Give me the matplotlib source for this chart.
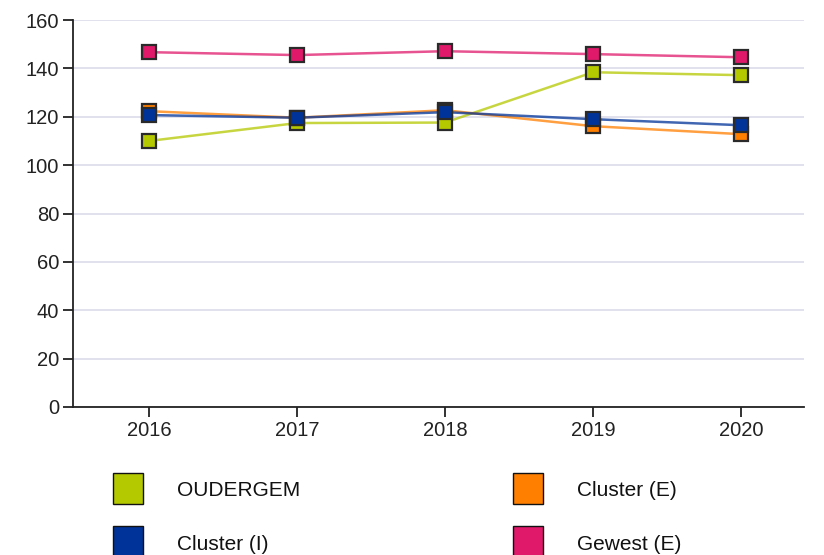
import matplotlib.pyplot as plt
from matplotlib.patches import Rectangle

plt.rcParams['font.family'] = ['Liberation Sans', 'DejaVu Sans']

years = [2016, 2017, 2018, 2019, 2020]
oudergem = [110.0, 117.4, 117.6, 138.4, 137.2]
cluster_e = [122.3, 119.6, 122.7, 116.1, 112.8]
cluster_i = [120.7, 119.6, 121.9, 119.0, 116.5]
gewest = [146.7, 145.5, 147.1, 145.9, 144.6]

names = ['OUDERGEM', 'Cluster (E)', 'Cluster (I)', 'Gewest (E)']
colors = ['#b5c900', '#ff7f00', '#003399', '#e0196b']
series = [oudergem, cluster_e, cluster_i, gewest]

fig = plt.figure(figsize=(8.24, 5.55), dpi=100)
ax = fig.add_axes([73/824, 1 - 407/555, (804 - 73)/824, (407 - 20)/555])

for vals, c in zip(series, colors):
    ax.plot(years, vals, color=c, lw=1.8, alpha=0.75, zorder=3)
    ax.plot(years, vals, ls='none', marker='s', ms=10, mfc=c, mec='#2a2a2a',
            mew=1.6, zorder=4)

ax.set_xlim(2015.486, 2020.426)
ax.set_ylim(0, 160)
ax.set_yticks(range(0, 161, 20))
ax.set_xticks(years)
ax.grid(axis='y', color='#dcdcea', lw=1.2)
ax.set_axisbelow(True)
for s in ['top', 'right']:
    ax.spines[s].set_visible(False)
for s in ['left', 'bottom']:
    ax.spines[s].set_linewidth(1.3)
    ax.spines[s].set_color('#222222')
ax.tick_params(length=7, width=1.3, color='#222222', labelsize=14.5,
               labelcolor='#222222', pad=3)

# legend, drawn by hand in two columns
pos = [(113, 473), (513, 473), (113, 526), (513, 526)]
for (px, py), name, c in zip(pos, names, colors):
    fig.add_artist(Rectangle((px/824, 1 - (py + 31)/555), 30/824, 31/555,
                             transform=fig.transFigure, facecolor=c,
                             edgecolor='#111111', lw=1))
    fig.text((px + 64)/824, 1 - (py + 18)/555, name, fontsize=15,
             color='#111111', va='center', ha='left')

fig.savefig('out.png')
